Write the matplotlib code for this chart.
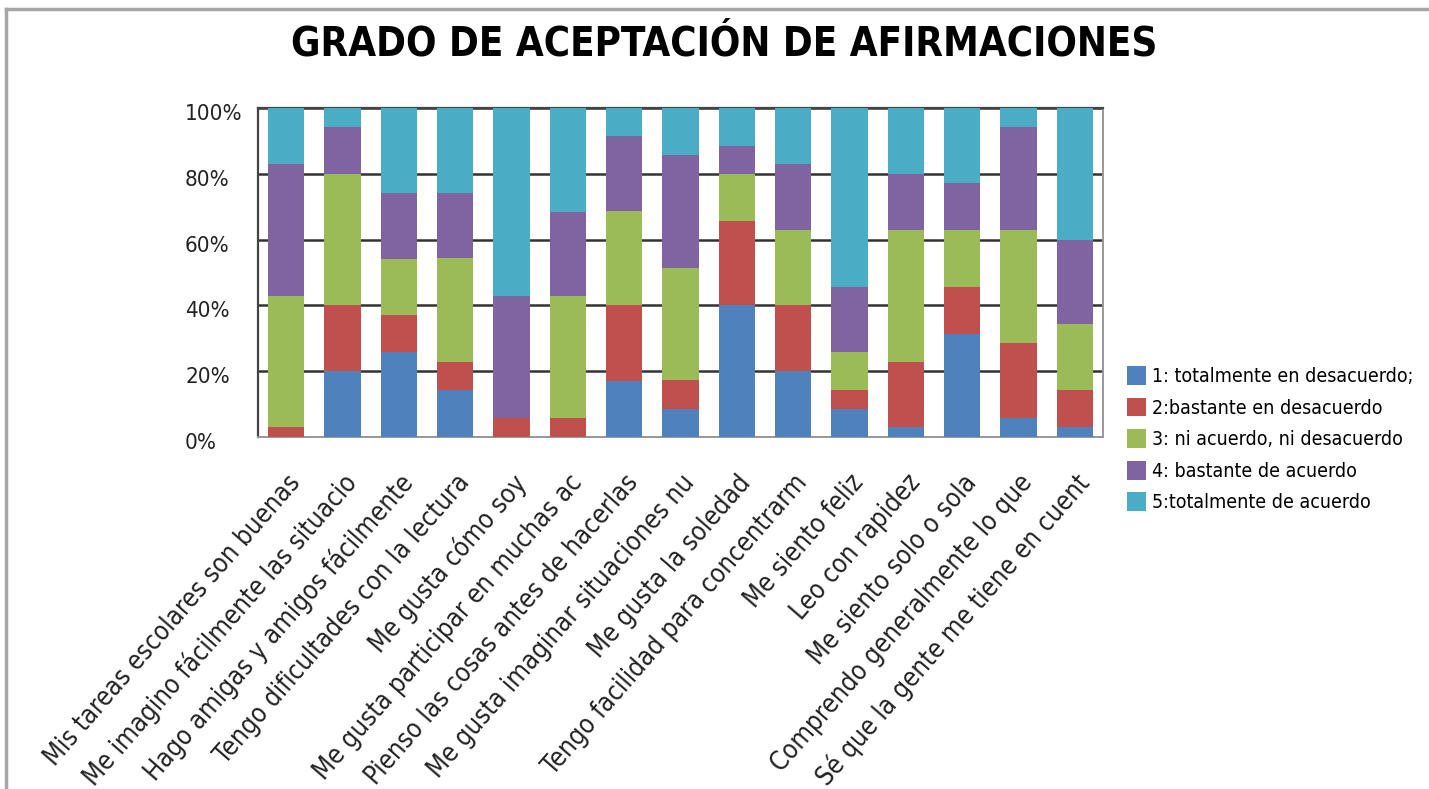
import numpy as np
from matplotlib import pyplot as plt
from matplotlib import font_manager as fm
from matplotlib.lines import Line2D
from matplotlib.transforms import ScaledTranslation

# pick a narrow face if there is one, the original text is squeezed
names = {f.name for f in fm.fontManager.ttflist}
if 'Liberation Sans Narrow' in names:
    FONT = 'Liberation Sans Narrow'
    STRETCH = 'normal'
else:
    FONT = 'DejaVu Sans'
    STRETCH = 'condensed'
plt.rcParams['font.family'] = [FONT, 'DejaVu Sans']
plt.rcParams['font.stretch'] = STRETCH

afirmaciones = [
    'Mis tareas escolares son buenas',
    'Me imagino fácilmente las situacio',
    'Hago amigas y amigos fácilmente',
    'Tengo dificultades con la lectura',
    'Me gusta cómo soy',
    'Me gusta participar en muchas ac',
    'Pienso las cosas antes de hacerlas',
    'Me gusta imaginar situaciones nu',
    'Me gusta la soledad',
    'Tengo facilidad para concentrarm',
    'Me siento feliz',
    'Leo con rapidez',
    'Me siento solo o sola',
    'Comprendo generalmente lo que',
    'Sé que la gente me tiene en cuent',
]

# percentages per answer level
totalmente_desacuerdo = [0, 20, 25.7, 14.3, 0, 0, 17.1, 8.6, 40, 20, 8.6, 2.9, 31.4, 5.7, 2.9]
bastante_desacuerdo = [2.9, 20, 11.4, 8.6, 5.7, 5.7, 22.9, 8.6, 25.7, 20, 5.7, 20, 14.3, 22.9, 11.4]
ni_acuerdo = [40, 40, 17.1, 31.4, 0, 37.1, 28.6, 34.3, 14.3, 22.9, 11.4, 40, 17.1, 34.3, 20]
bastante_acuerdo = [40, 14.3, 20, 20, 37.1, 25.7, 22.9, 34.3, 8.6, 20, 20, 17.1, 14.3, 31.4, 25.7]
totalmente_acuerdo = [17.1, 5.7, 25.7, 25.7, 57.1, 31.4, 8.6, 14.3, 11.4, 17.1, 54.3, 20, 22.9, 5.7, 40]

series_labels = [
    '1: totalmente en desacuerdo;',
    '2:bastante en desacuerdo',
    '3: ni acuerdo, ni desacuerdo',
    '4: bastante de acuerdo',
    '5:totalmente de acuerdo',
]
colors = ['#4F81BD', '#C0504D', '#9BBB59', '#8064A2', '#4BACC6']

series = [totalmente_desacuerdo, bastante_desacuerdo, ni_acuerdo,
          bastante_acuerdo, totalmente_acuerdo]

W, H = 1429, 789
fig = plt.figure(figsize=(W / 100, H / 100), dpi=100)
ax = fig.add_axes([258 / W, 1 - 437 / H, 845 / W, 329 / H])

x = np.arange(len(afirmaciones))
bottom = np.zeros(len(afirmaciones))
for vals, lab, col in zip(series, series_labels, colors):
    vals = np.array(vals, dtype=float)
    ax.bar(x, vals, 0.64, bottom=bottom, color=col, label=lab, zorder=3)
    bottom += vals

ax.set_xlim(-0.5, len(afirmaciones) - 0.5)
ax.set_ylim(0, 100)
ax.set_yticks([0, 20, 40, 60, 80, 100])
ax.set_yticklabels(['0%', '20%', '40%', '60%', '80%', '100%'])
ax.yaxis.grid(True, color='#333333', linewidth=1.8, zorder=0)
ax.set_axisbelow(True)

ax.tick_params(axis='y', length=0, pad=52.5, labelsize=16, labelcolor='#222222')
for t in ax.get_yticklabels():
    t.set_ha('left')
    t.set_transform(t.get_transform() + ScaledTranslation(0, -4 / 100, fig.dpi_scale_trans))

ax.set_xticks(x)
ax.set_xticklabels(afirmaciones, rotation=49, ha='right', va='center',
                   rotation_mode='anchor', fontsize=18.5, color='#222222')
ax.tick_params(axis='x', length=0, pad=30)
for t in ax.get_xticklabels():
    t.set_transform(t.get_transform() + ScaledTranslation(10 / 100, 0, fig.dpi_scale_trans))

for side in ['top', 'left']:
    ax.spines[side].set_color('#444444')
    ax.spines[side].set_linewidth(1.6)
for side in ['right', 'bottom']:
    ax.spines[side].set_color('#999999')
    ax.spines[side].set_linewidth(1.4)

fig.text(724 / W, 1 - 45 / H, 'GRADO DE ACEPTACIÓN DE AFIRMACIONES',
         ha='center', va='center', fontsize=28.8, fontweight='bold', color='black')

fig.legend(loc='upper left', bbox_to_anchor=(1127 / W, 1 - 366 / H),
           frameon=False, fontsize=14, handlelength=1.0, handleheight=1.1,
           handletextpad=0.3, labelspacing=0.6, borderpad=0, borderaxespad=0)

# grey frame round the chart, only top and left show in the original
fig.add_artist(Line2D([6 / W, 1], [1 - 9 / H, 1 - 9 / H], color='#a6a6a6', linewidth=2.5))
fig.add_artist(Line2D([6 / W, 6 / W], [0, 1 - 9 / H], color='#a6a6a6', linewidth=2.5))

fig.savefig('out.png', dpi=100)
